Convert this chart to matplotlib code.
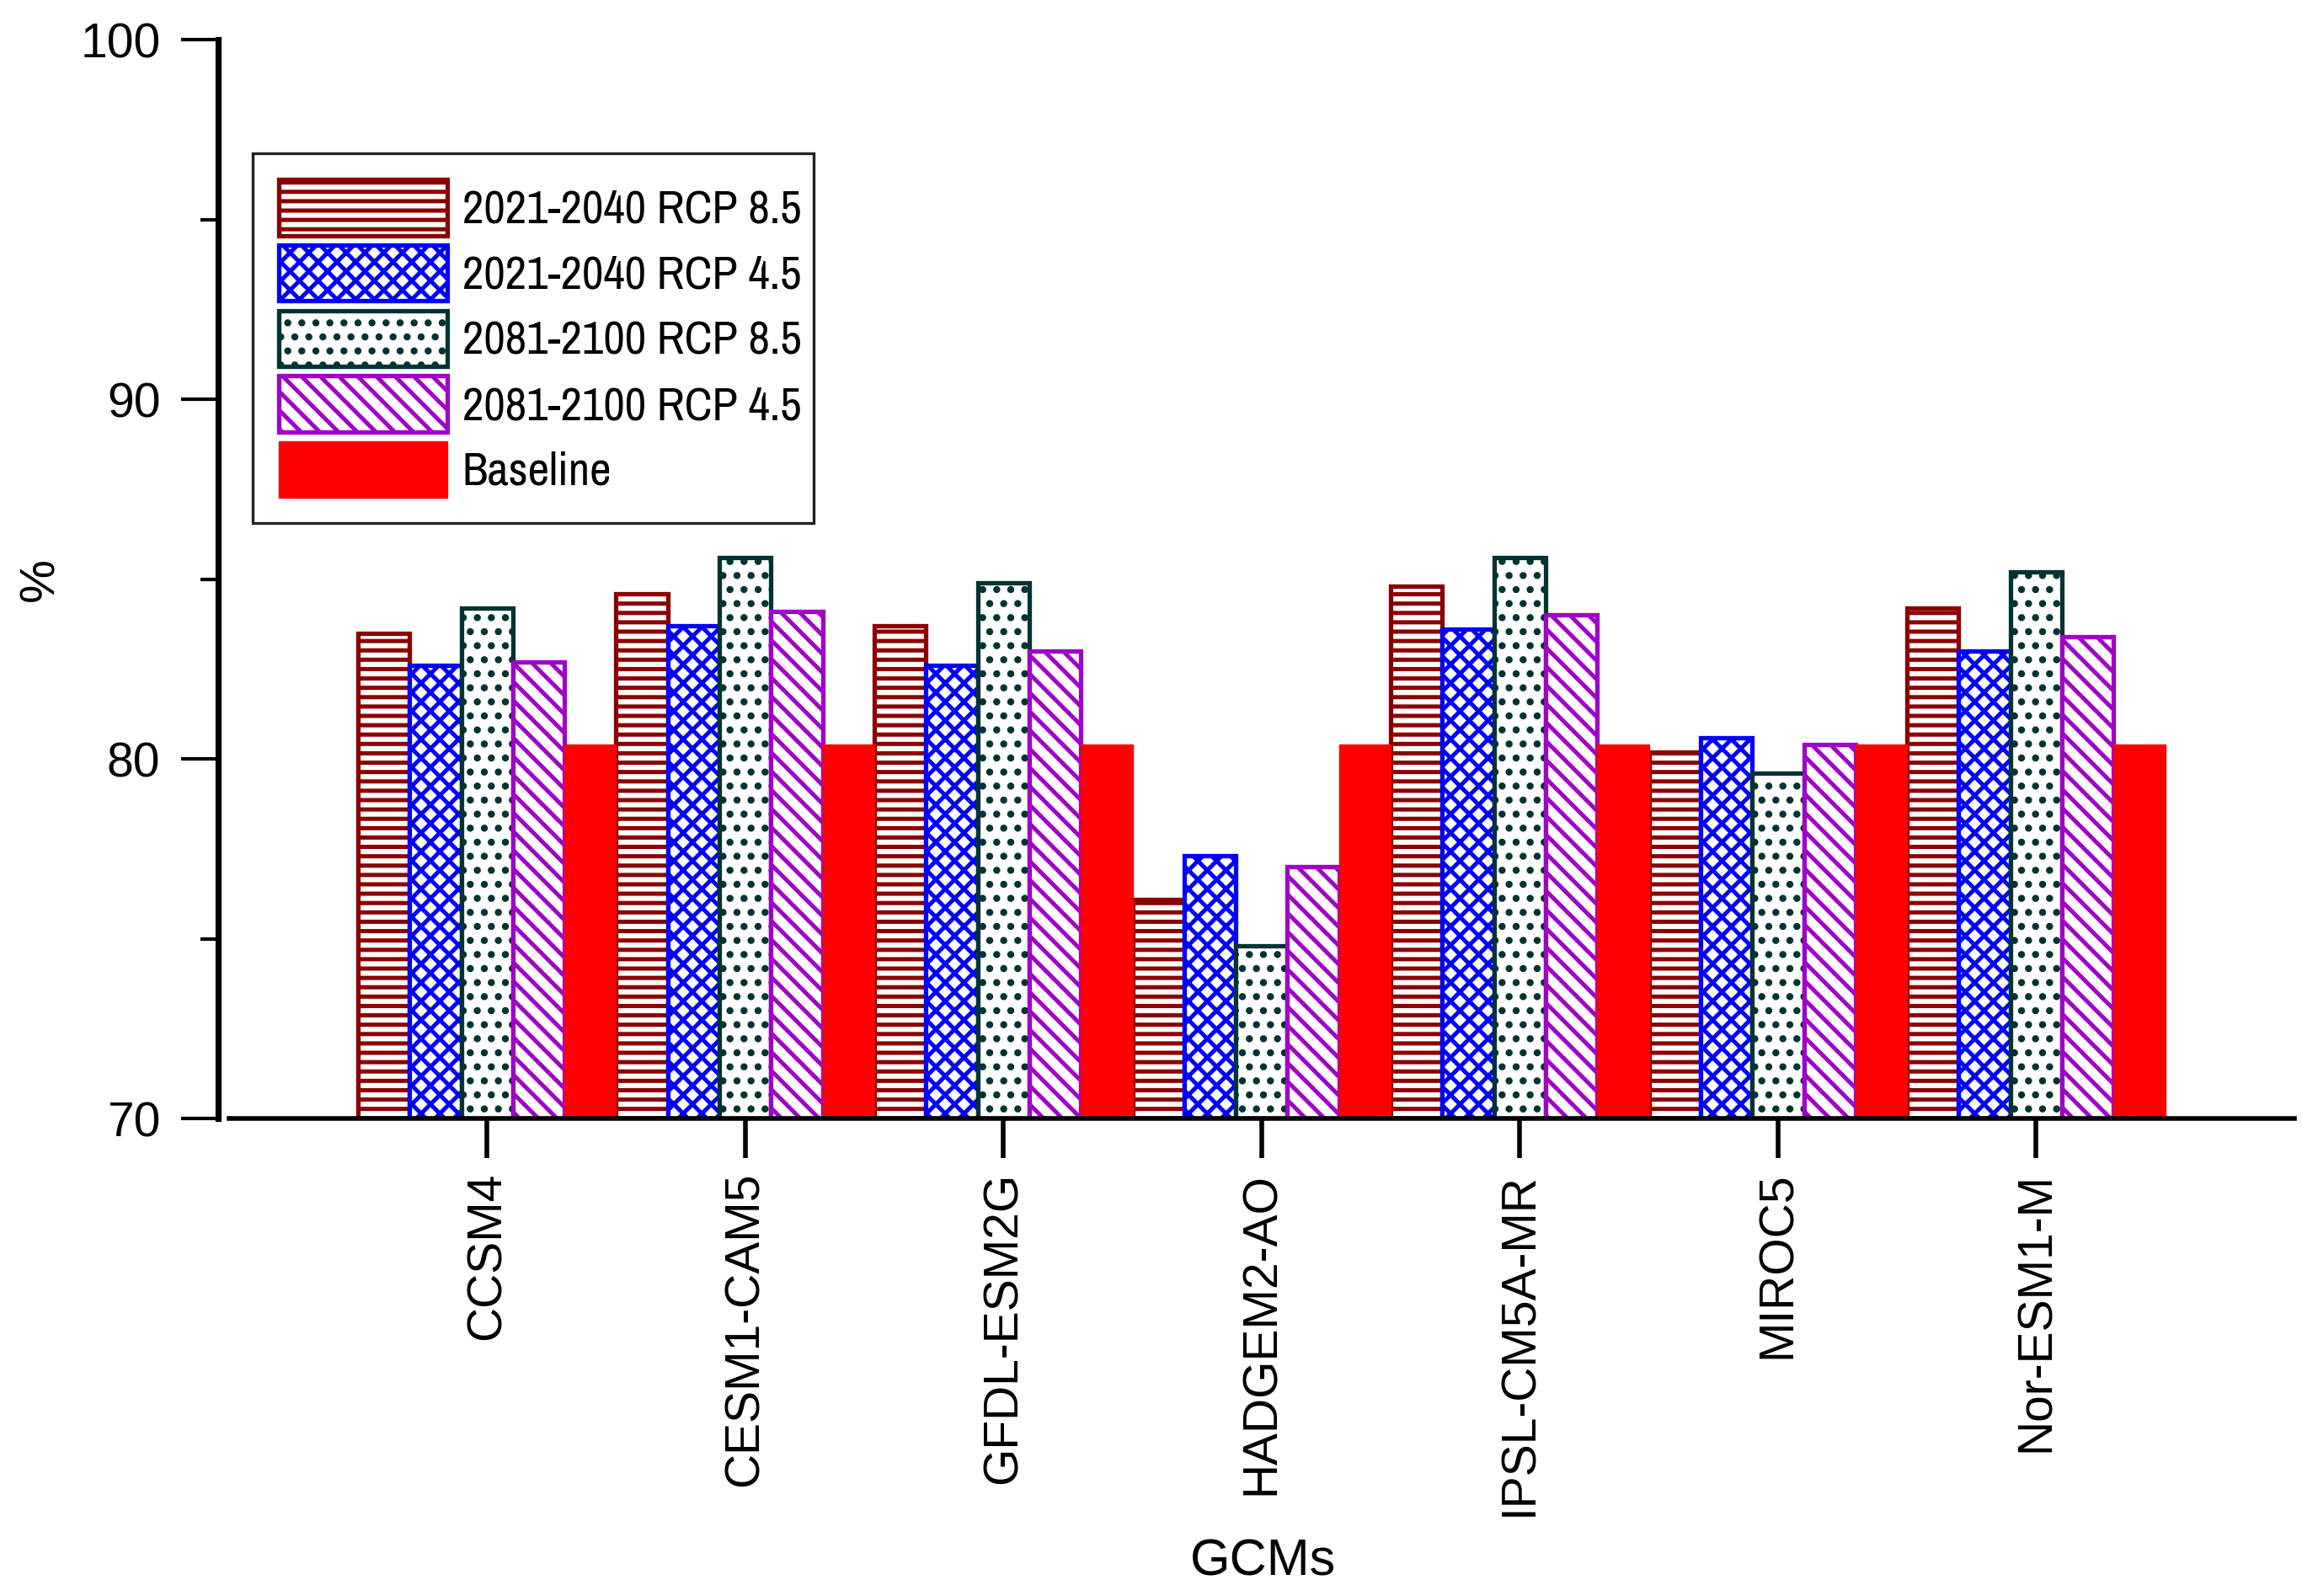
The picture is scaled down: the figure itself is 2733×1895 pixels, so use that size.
import numpy as np
import matplotlib
matplotlib.use("Agg")
import matplotlib.pyplot as plt
import matplotlib.font_manager as fm
from matplotlib.ticker import MultipleLocator

gcms = ["CCSM4", "CESM1-CAM5", "GFDL-ESM2G", "HADGEM2-AO", "IPSL-CM5A-MR", "MIROC5", "Nor-ESM1-M"]

rcp85_2021 = [83.5, 84.6, 83.7, 76.1, 84.8, 80.2, 84.2]
rcp45_2021 = [82.6, 83.7, 82.6, 77.3, 83.6, 80.6, 83.0]
rcp85_2081 = [84.2, 85.6, 84.9, 74.8, 85.6, 79.6, 85.2]
rcp45_2081 = [82.7, 84.1, 83.0, 77.0, 84.0, 80.4, 83.4]
baseline = [80.4, 80.4, 80.4, 80.4, 80.4, 80.4, 80.4]

labels = ["2021-2040 RCP 8.5", "2021-2040 RCP 4.5", "2081-2100 RCP 8.5", "2081-2100 RCP 4.5", "Baseline"]

plt.rcParams['font.family'] = ['Liberation Sans', 'DejaVu Sans']
plt.rcParams['hatch.linewidth'] = 1.8

# legend text in the original is a condensed sans; use one if the system has it
narrow = sorted({f.name for f in fm.fontManager.ttflist
                 if 'Narrow' in f.name or 'Condensed' in f.name})
if narrow:
    leg_font = {'family': [narrow[0], 'Liberation Sans'], 'size': 20}
else:
    leg_font = {'family': ['Liberation Sans'], 'size': 17}

fig = plt.figure(figsize=(13.665, 9.475), dpi=200)
ax = fig.add_axes([0.0949, 0.2992, 0.9018, 0.6758])

x = np.arange(len(gcms))
w = 0.2

series = [rcp85_2021, rcp45_2021, rcp85_2081, rcp45_2081]
edges = ["#8b0000", "#0000ff", "#003333", "#a000c8"]
hatches = ["---", "xxx", "..", "\\\\\\"]

for i, (vals, ec, h) in enumerate(zip(series, edges, hatches)):
    ax.bar(x + (i - 2) * w, np.array(vals) - 70, w, bottom=70, color="white",
           edgecolor=ec, hatch=h, linewidth=1.9, label=labels[i], zorder=2)
ax.bar(x + 2 * w, np.array(baseline) - 70, w, bottom=70, color="#ff0000",
       edgecolor="#ff0000", linewidth=0.5, label=labels[4], zorder=2)

ax.set_xlim(-1.04, 7.0)
ax.set_ylim(70, 100)
ax.set_xticks(x)
ax.set_xticklabels(gcms, rotation=90, fontsize=20.5)
ax.yaxis.set_major_locator(MultipleLocator(10))
ax.yaxis.set_minor_locator(MultipleLocator(5))
ax.tick_params(axis='y', which='major', length=15.8, width=1.5, labelsize=20.5, pad=9)
ax.tick_params(axis='y', which='minor', length=7.5, width=1.5)
ax.tick_params(axis='x', length=17, width=2, pad=6)

ax.spines['top'].set_visible(False)
ax.spines['right'].set_visible(False)
ax.spines['left'].set_linewidth(2.6)
ax.spines['bottom'].set_linewidth(2.0)
ax.spines['bottom'].set_bounds(-1.0, 7.0)

ax.set_ylabel("%", fontsize=21)
ax.yaxis.set_label_coords(-0.0745, 0.5)
ax.set_xlabel("GCMs", fontsize=22)
ax.xaxis.set_label_coords(0.503, -0.389)

leg = ax.legend(loc="upper left", bbox_to_anchor=(0.0166, 0.5496, 0.27, 0.345),
                mode="expand", handlelength=3.6, handleheight=1.47,
                labelspacing=0.2, borderpad=0.55, handletextpad=0.32, borderaxespad=0,
                fancybox=False, framealpha=1, prop=leg_font)
leg.get_frame().set_edgecolor("#222222")
leg.get_frame().set_linewidth(1.2)

fig.savefig("out.png", dpi=200)
